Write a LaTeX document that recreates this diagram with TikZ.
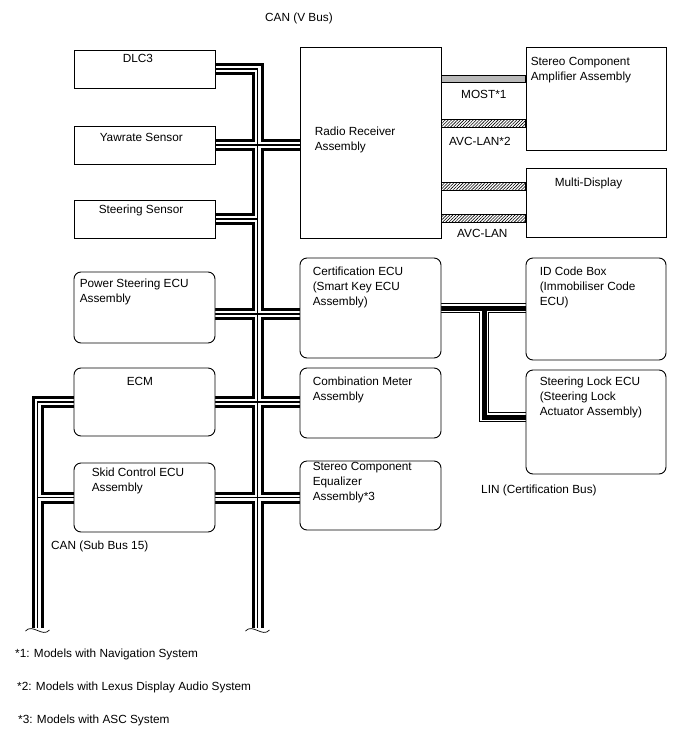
\documentclass[tikz,border=0pt]{standalone}
\usepackage{fontspec}
\setmainfont{Liberation Sans}
\usetikzlibrary{positioning,calc,patterns.meta,backgrounds}

\begin{document}
\begin{tikzpicture}[x=1pt,y=-1pt,
  font=\fontsize{11.8}{15}\selectfont,
  unit/.style={draw,line width=0.9pt,fill=white,minimum width=141pt,inner sep=0pt},
  ecu/.style={unit,rounded corners=7pt},
  txt/.style={inner sep=0pt,align=left,anchor=north west},
  canbus/.style={line width=12pt,
    postaction={draw,white,line width=6pt},
    postaction={draw,black,line width=1.2pt}},
  linbus/.style={line width=10pt,
    postaction={draw,white,line width=8pt},
    postaction={draw,black,line width=5pt}},
  avc/.style={draw,line width=0.7pt,pattern={Lines[angle=45,distance=2.2pt,line width=0.6pt]}},
  most/.style={draw,line width=0.7pt,fill=gray!55},
  brk/.style={line width=0.7pt}]
  \useasboundingbox (0,0) rectangle (688,755);

  \node[unit,minimum height=38pt] (dlc) at (144.5,69) {};
  \node[unit,minimum height=38pt] (yaw) at (144.5,145) {};
  \node[unit,minimum height=38pt] (steer) at (144.5,219) {};
  \node[ecu,minimum height=71pt] (ps) at (144.5,307.5) {};
  \node[ecu,minimum height=68pt] (ecm) at (144.5,402) {};
  \node[ecu,minimum height=69pt] (skid) at (144.5,497.5) {};
  \node[unit,minimum height=191pt] (radio) at (370.5,142.5) {};
  \node[ecu,minimum height=100pt] (cert) at (370.5,308) {};
  \node[ecu,minimum height=70pt] (combo) at (370.5,403) {};
  \node[ecu,minimum height=69pt] (eq) at (370.5,495.5) {};
  \node[unit,minimum width=140pt,minimum height=103pt] (amp) at (596,98.5) {};
  \node[unit,minimum width=140pt,minimum height=69pt] (disp) at (596,202.5) {};
  \node[ecu,minimum width=140pt,minimum height=102pt] (idbox) at (596,309) {};
  \node[ecu,minimum width=140pt,minimum height=104pt] (lock) at (596,422) {};

  \node[txt,below right=5pt and 49pt of dlc.north west] (dlcl) {DLC3};
  \node[txt,below right=8pt and 26pt of yaw.north west] (yawl) {Yawrate Sensor};
  \node[txt,below right=5pt and 25pt of steer.north west] (steerl) {Steering Sensor};
  \node[txt,below right=7pt and 6pt of ps.north west] (psl) {Power Steering ECU\\Assembly};
  \node[txt,below right=10pt and 53pt of ecm.north west] (ecml) {ECM};
  \node[txt,below right=5pt and 18pt of skid.north west] (skidl) {Skid Control ECU\\Assembly};
  \node[txt,below right=80pt and 15pt of radio.north west] (radiol) {Radio Receiver\\Assembly};
  \node[txt,below right=9pt and 13pt of cert.north west] (certl) {Certification ECU\\(Smart Key ECU\\Assembly)};
  \node[txt,below right=9pt and 13pt of combo.north west] (combol) {Combination Meter\\Assembly};
  \node[txt,below right=2pt and 13pt of eq.north west] (eql) {Stereo Component\\Equalizer\\Assembly*3};
  \node[txt,below right=11pt and 5pt of amp.north west] (ampl) {Stereo Component\\Amplifier Assembly};
  \node[txt,below right=10pt and 29pt of disp.north west] (displ) {Multi-Display};
  \node[txt,below right=9pt and 14pt of idbox.north west] (idboxl) {ID Code Box\\(Immobiliser Code\\ECU)};
  \node[txt,below right=7pt and 14pt of lock.north west] (lockl) {Steering Lock ECU\\(Steering Lock\\Actuator Assembly)};

  \coordinate (vbot) at (257.5,628);
  \coordinate (lbot) at (37.5,628);
  \coordinate (psbus) at (0,314);
  \coordinate (lin) at (484,417);
  \coordinate (mostbar) at (0,79);
  \coordinate (avca) at (0,123);
  \coordinate (avcb) at (0,186);
  \coordinate (avcc) at (0,218);

  \begin{scope}[on background layer]
    \draw[canbus] (dlc.east) -| (vbot)
      (yaw.east) -- (yaw.east -| radio.west)
      (steer.east) -- (steer.east -| vbot)
      (psbus -| ps.east) -- (psbus -| cert.west)
      (ecm.east) -- (ecm.east -| combo.west)
      (skid.east) -- (skid.east -| eq.west)
      (ecm.west) -| (lbot)
      (skid.west) -- (skid.west -| lbot);
    \draw[linbus] (cert.east) -- (cert.east -| idbox.west)
      (cert.east -| lin) -- (lin) -- (lin -| lock.west);
  \end{scope}

  \draw[most] ($(radio.east |- mostbar)+(0,-3.5)$) rectangle ($(amp.west |- mostbar)+(0,3.5)$);
  \draw[avc] ($(radio.east |- avca)+(0,-4)$) rectangle ($(amp.west |- avca)+(0,4)$);
  \draw[avc] ($(radio.east |- avcb)+(0,-4)$) rectangle ($(disp.west |- avcb)+(0,4)$);
  \draw[avc] ($(radio.east |- avcc)+(0,-4)$) rectangle ($(disp.west |- avcc)+(0,4)$);

  \foreach \b in {vbot,lbot}
    \draw[brk] ($(\b)+(-12,3)$) .. controls ($(\b)+(-5,-5)$) and ($(\b)+(5,10)$) .. ($(\b)+(12,2)$);

  \node[txt] (canv) at (265,13) {CAN (V Bus)};
  \node[txt] (cansub) at (51,541) {CAN (Sub Bus 15)};
  \node[txt] (linl) at (481,485) {LIN (Certification Bus)};
  \node[txt] (mostl) at (461,90) {MOST*1};
  \node[txt] (avcal) at (449,137) {AVC-LAN*2};
  \node[txt] (avccl) at (457,229) {AVC-LAN};
  \node[txt] (n1) at (15,649) {*1: Models with Navigation System};
  \node[txt] (n2) at (17,682) {*2: Models with Lexus Display Audio System};
  \node[txt] (n3) at (18,715) {*3: Models with ASC System};
\end{tikzpicture}
\end{document}
